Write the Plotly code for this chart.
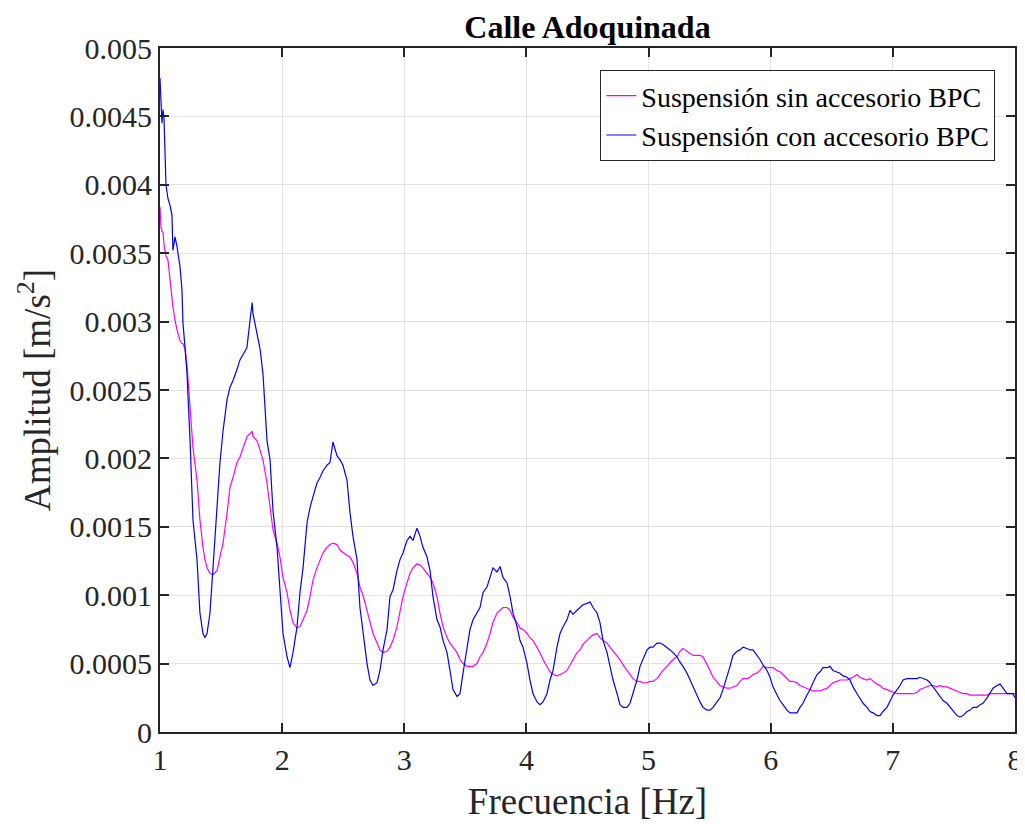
import plotly.graph_objects as go

# Frequencies (Hz)
freq = [1.000, 1.008, 1.016, 1.025, 1.033, 1.049, 1.065, 1.082, 1.098, 1.106, 1.123, 1.139, 1.164,
        1.180, 1.188, 1.205, 1.221, 1.246, 1.270, 1.303, 1.327, 1.352, 1.368, 1.385, 1.409, 1.434,
        1.467, 1.491, 1.516, 1.549, 1.573, 1.598, 1.630, 1.655, 1.680, 1.712, 1.737, 1.755, 1.761,
        1.794, 1.819, 1.843, 1.876, 1.901, 1.925, 1.958, 1.982, 2.007, 2.040, 2.064, 2.089, 2.122,
        2.146, 2.171, 2.204, 2.228, 2.253, 2.285, 2.310, 2.335, 2.367, 2.392, 2.416, 2.449, 2.474,
        2.498, 2.531, 2.556, 2.580, 2.613, 2.637, 2.662, 2.695, 2.719, 2.744, 2.777, 2.801, 2.826,
        2.859, 2.883, 2.908, 2.940, 2.965, 2.990, 3.022, 3.047, 3.071, 3.104, 3.129, 3.153, 3.186,
        3.211, 3.235, 3.268, 3.292, 3.317, 3.350, 3.374, 3.399, 3.432, 3.456, 3.481, 3.514, 3.538,
        3.563, 3.595, 3.620, 3.645, 3.677, 3.702, 3.726, 3.759, 3.784, 3.808, 3.841, 3.866, 3.890,
        3.923, 3.947, 3.972, 4.005, 4.029, 4.054, 4.087, 4.111, 4.136, 4.168, 4.193, 4.218, 4.250,
        4.275, 4.300, 4.332, 4.357, 4.381, 4.414, 4.439, 4.463, 4.496, 4.521, 4.545, 4.578, 4.602,
        4.627, 4.660, 4.684, 4.709, 4.742, 4.766, 4.791, 4.823, 4.848, 4.873, 4.905, 4.930, 4.954,
        4.987, 5.012, 5.036, 5.069, 5.094, 5.118, 5.151, 5.176, 5.200, 5.233, 5.257, 5.282, 5.315,
        5.339, 5.364, 5.397, 5.421, 5.446, 5.478, 5.503, 5.528, 5.560, 5.585, 5.609, 5.642, 5.667,
        5.691, 5.724, 5.749, 5.773, 5.806, 5.830, 5.855, 5.888, 5.912, 5.937, 5.970, 5.994, 6.019,
        6.052, 6.076, 6.101, 6.133, 6.158, 6.183, 6.215, 6.240, 6.264, 6.297, 6.322, 6.346, 6.379,
        6.404, 6.428, 6.461, 6.485, 6.510, 6.543, 6.567, 6.592, 6.625, 6.649, 6.674, 6.707, 6.731,
        6.756, 6.789, 6.813, 6.838, 6.870, 6.895, 6.919, 6.952, 6.977, 7.001, 7.034, 7.059, 7.083,
        7.116, 7.140, 7.165, 7.198, 7.222, 7.247, 7.280, 7.304, 7.329, 7.362, 7.386, 7.411, 7.443,
        7.468, 7.493, 7.525, 7.550, 7.575, 7.607, 7.632, 7.656, 7.689, 7.714, 7.738, 7.771, 7.795,
        7.820, 7.853, 7.877, 7.902, 7.935, 7.959, 7.984, 8.000]

# Suspensión sin accesorio BPC (magenta)
sin_bpc = [0.00384, 0.00369, 0.00366, 0.00365, 0.00356, 0.00348, 0.00345, 0.00330, 0.00316, 0.00311,
           0.00301, 0.00294, 0.00286, 0.00284, 0.00284, 0.00280, 0.00268, 0.00238, 0.00208, 0.00184,
           0.00155, 0.00135, 0.00126, 0.00120, 0.00116, 0.00115, 0.00118, 0.00128, 0.00138, 0.00160,
           0.00179, 0.00186, 0.00197, 0.00201, 0.00208, 0.00216, 0.00218, 0.00220, 0.00216, 0.00213,
           0.00206, 0.00199, 0.00182, 0.00164, 0.00148, 0.00138, 0.00128, 0.00113, 0.00102, 0.00089,
           0.00080, 0.00076, 0.00077, 0.00082, 0.00089, 0.00099, 0.00111, 0.00120, 0.00126, 0.00131,
           0.00135, 0.00137, 0.00138, 0.00137, 0.00133, 0.00131, 0.00129, 0.00128, 0.00124, 0.00116,
           0.00106, 0.00100, 0.00089, 0.00082, 0.00072, 0.00065, 0.00060, 0.00058, 0.00059, 0.00062,
           0.00067, 0.00077, 0.00089, 0.00099, 0.00109, 0.00116, 0.00120, 0.00123, 0.00122, 0.00120,
           0.00116, 0.00113, 0.00109, 0.00099, 0.00087, 0.00077, 0.00069, 0.00065, 0.00062, 0.00058,
           0.00053, 0.00050, 0.00048, 0.00048, 0.00048, 0.00050, 0.00055, 0.00058, 0.00065, 0.00072,
           0.00080, 0.00087, 0.00089, 0.00091, 0.00091, 0.00089, 0.00084, 0.00080, 0.00076, 0.00075,
           0.00072, 0.00069, 0.00067, 0.00062, 0.00058, 0.00053, 0.00048, 0.00044, 0.00042, 0.00041,
           0.00042, 0.00043, 0.00045, 0.00049, 0.00053, 0.00058, 0.00060, 0.00064, 0.00067, 0.00069,
           0.00071, 0.00072, 0.00069, 0.00067, 0.00065, 0.00062, 0.00059, 0.00055, 0.00053, 0.00049,
           0.00045, 0.00042, 0.00039, 0.00037, 0.00037, 0.00036, 0.00036, 0.00037, 0.00037, 0.00039,
           0.00042, 0.00045, 0.00048, 0.00051, 0.00053, 0.00055, 0.00059, 0.00061, 0.00059, 0.00058,
           0.00056, 0.00056, 0.00056, 0.00055, 0.00050, 0.00045, 0.00040, 0.00037, 0.00034, 0.00033,
           0.00032, 0.00032, 0.00033, 0.00034, 0.00037, 0.00039, 0.00039, 0.00040, 0.00042, 0.00043,
           0.00045, 0.00048, 0.00047, 0.00047, 0.00047, 0.00045, 0.00044, 0.00042, 0.00039, 0.00037,
           0.00037, 0.00036, 0.00034, 0.00033, 0.00032, 0.00031, 0.00030, 0.00030, 0.00030, 0.00031,
           0.00032, 0.00034, 0.00036, 0.00037, 0.00038, 0.00038, 0.00038, 0.00039, 0.00040, 0.00042,
           0.00040, 0.00039, 0.00038, 0.00039, 0.00037, 0.00035, 0.00034, 0.00032, 0.00031, 0.00030,
           0.00029, 0.00028, 0.00028, 0.00028, 0.00028, 0.00028, 0.00028, 0.00029, 0.00031, 0.00032,
           0.00033, 0.00034, 0.00034, 0.00033, 0.00034, 0.00033, 0.00033, 0.00032, 0.00031, 0.00030,
           0.00029, 0.00028, 0.00028, 0.00027, 0.00027, 0.00027, 0.00027, 0.00027, 0.00027, 0.00028,
           0.00028, 0.00028, 0.00028, 0.00028, 0.00028, 0.00028, 0.00028, 0.00028]

# Suspensión con accesorio BPC (blue)
con_bpc = [0.00478, 0.00465, 0.00445, 0.00455, 0.00448, 0.00400, 0.00390, 0.00385, 0.00378, 0.00352,
           0.00362, 0.00355, 0.00340, 0.00323, 0.00299, 0.00281, 0.00262, 0.00213, 0.00155, 0.00126,
           0.00087, 0.00072, 0.00069, 0.00072, 0.00087, 0.00120, 0.00162, 0.00197, 0.00220, 0.00243,
           0.00252, 0.00257, 0.00265, 0.00272, 0.00276, 0.00281, 0.00301, 0.00314, 0.00306, 0.00292,
           0.00280, 0.00262, 0.00213, 0.00199, 0.00162, 0.00135, 0.00102, 0.00072, 0.00055, 0.00047,
           0.00058, 0.00077, 0.00102, 0.00120, 0.00153, 0.00164, 0.00172, 0.00182, 0.00186, 0.00191,
           0.00195, 0.00197, 0.00212, 0.00202, 0.00199, 0.00195, 0.00184, 0.00160, 0.00143, 0.00126,
           0.00091, 0.00072, 0.00050, 0.00038, 0.00034, 0.00036, 0.00045, 0.00060, 0.00075, 0.00099,
           0.00104, 0.00118, 0.00126, 0.00131, 0.00140, 0.00143, 0.00140, 0.00149, 0.00143, 0.00135,
           0.00128, 0.00118, 0.00099, 0.00082, 0.00077, 0.00067, 0.00058, 0.00045, 0.00031, 0.00026,
           0.00028, 0.00043, 0.00062, 0.00075, 0.00082, 0.00087, 0.00091, 0.00102, 0.00106, 0.00113,
           0.00120, 0.00117, 0.00121, 0.00113, 0.00109, 0.00099, 0.00087, 0.00077, 0.00067, 0.00062,
           0.00050, 0.00038, 0.00028, 0.00022, 0.00020, 0.00022, 0.00028, 0.00038, 0.00045, 0.00062,
           0.00072, 0.00077, 0.00082, 0.00089, 0.00086, 0.00089, 0.00091, 0.00093, 0.00094, 0.00095,
           0.00091, 0.00087, 0.00080, 0.00067, 0.00058, 0.00048, 0.00038, 0.00028, 0.00020, 0.00018,
           0.00018, 0.00021, 0.00028, 0.00038, 0.00048, 0.00053, 0.00060, 0.00062, 0.00062, 0.00065,
           0.00065, 0.00064, 0.00062, 0.00060, 0.00058, 0.00055, 0.00051, 0.00048, 0.00043, 0.00038,
           0.00033, 0.00027, 0.00022, 0.00018, 0.00016, 0.00016, 0.00018, 0.00022, 0.00025, 0.00031,
           0.00040, 0.00048, 0.00056, 0.00059, 0.00060, 0.00062, 0.00061, 0.00060, 0.00060, 0.00056,
           0.00053, 0.00049, 0.00045, 0.00040, 0.00033, 0.00027, 0.00023, 0.00020, 0.00016, 0.00014,
           0.00014, 0.00014, 0.00018, 0.00021, 0.00027, 0.00031, 0.00036, 0.00042, 0.00044, 0.00047,
           0.00047, 0.00048, 0.00045, 0.00044, 0.00043, 0.00041, 0.00040, 0.00038, 0.00033, 0.00028,
           0.00025, 0.00021, 0.00018, 0.00015, 0.00014, 0.00012, 0.00012, 0.00015, 0.00018, 0.00023,
           0.00027, 0.00031, 0.00034, 0.00038, 0.00039, 0.00039, 0.00039, 0.00039, 0.00040, 0.00039,
           0.00038, 0.00036, 0.00033, 0.00029, 0.00026, 0.00023, 0.00021, 0.00018, 0.00015, 0.00012,
           0.00011, 0.00012, 0.00015, 0.00016, 0.00018, 0.00018, 0.00020, 0.00021, 0.00025, 0.00029,
           0.00032, 0.00034, 0.00035, 0.00032, 0.00028, 0.00028, 0.00028, 0.00025]

y_tickvals = [0, 0.0005, 0.001, 0.0015, 0.002, 0.0025, 0.003, 0.0035, 0.004, 0.0045, 0.005]
y_ticktext = ["0", "0.0005", "0.001", "0.0015", "0.002", "0.0025", "0.003", "0.0035", "0.004", "0.0045", "0.005"]
x_tickvals = [1, 2, 3, 4, 5, 6, 7, 8]

FONT = "Liberation Serif, Times New Roman, serif"

# The page body has an 8px margin, so the figure is sized/positioned to compensate.
W, H = 1017, 816
L, R, T, B = 152, 10, 40, 92

fig = go.Figure()
fig.add_trace(go.Scatter(x=freq, y=sin_bpc, mode="lines", name="Suspensión sin accesorio BPC",
                         line=dict(color="#FF00FF", width=1.2)))
fig.add_trace(go.Scatter(x=freq, y=con_bpc, mode="lines", name="Suspensión con accesorio BPC",
                         line=dict(color="#0000FF", width=1.2)))

axis_common = dict(showline=True, linecolor="#262626", linewidth=2, mirror="ticks",
                   ticks="inside", ticklen=9, tickwidth=1.5, tickcolor="#262626",
                   showgrid=True, gridcolor="#E3E3E3", gridwidth=1, zeroline=False,
                   tickfont=dict(family=FONT, size=30, color="#262626"))

fig.update_xaxes(range=[1, 8], tickvals=x_tickvals, **axis_common,
                 title=dict(text="Frecuencia [Hz]", font=dict(family=FONT, size=37, color="#262626"),
                            standoff=13))
fig.update_yaxes(range=[0, 0.005], tickvals=y_tickvals, ticktext=y_ticktext, **axis_common,
                 title=dict(text="Amplitud [m/s<sup>2</sup>]", font=dict(family=FONT, size=37, color="#262626"),
                            standoff=8))

fig.update_layout(
    width=W, height=H,
    margin=dict(l=L, r=R, t=T, b=B, autoexpand=False),
    paper_bgcolor="white", plot_bgcolor="white",
    title=dict(text="<b>Calle Adoquinada</b>", xref="paper", x=0.5, xanchor="center",
               yref="paper", y=1, yanchor="bottom", pad=dict(b=10),
               font=dict(family=FONT, size=32, color="black")),
    legend=dict(x=0.977, y=0.968, xanchor="right", yanchor="top", bgcolor="white",
                bordercolor="#262626", borderwidth=1,
                font=dict(family=FONT, size=28, color="black"), tracegroupgap=0),
    showlegend=True,
)

fig.write_html("out.html")
